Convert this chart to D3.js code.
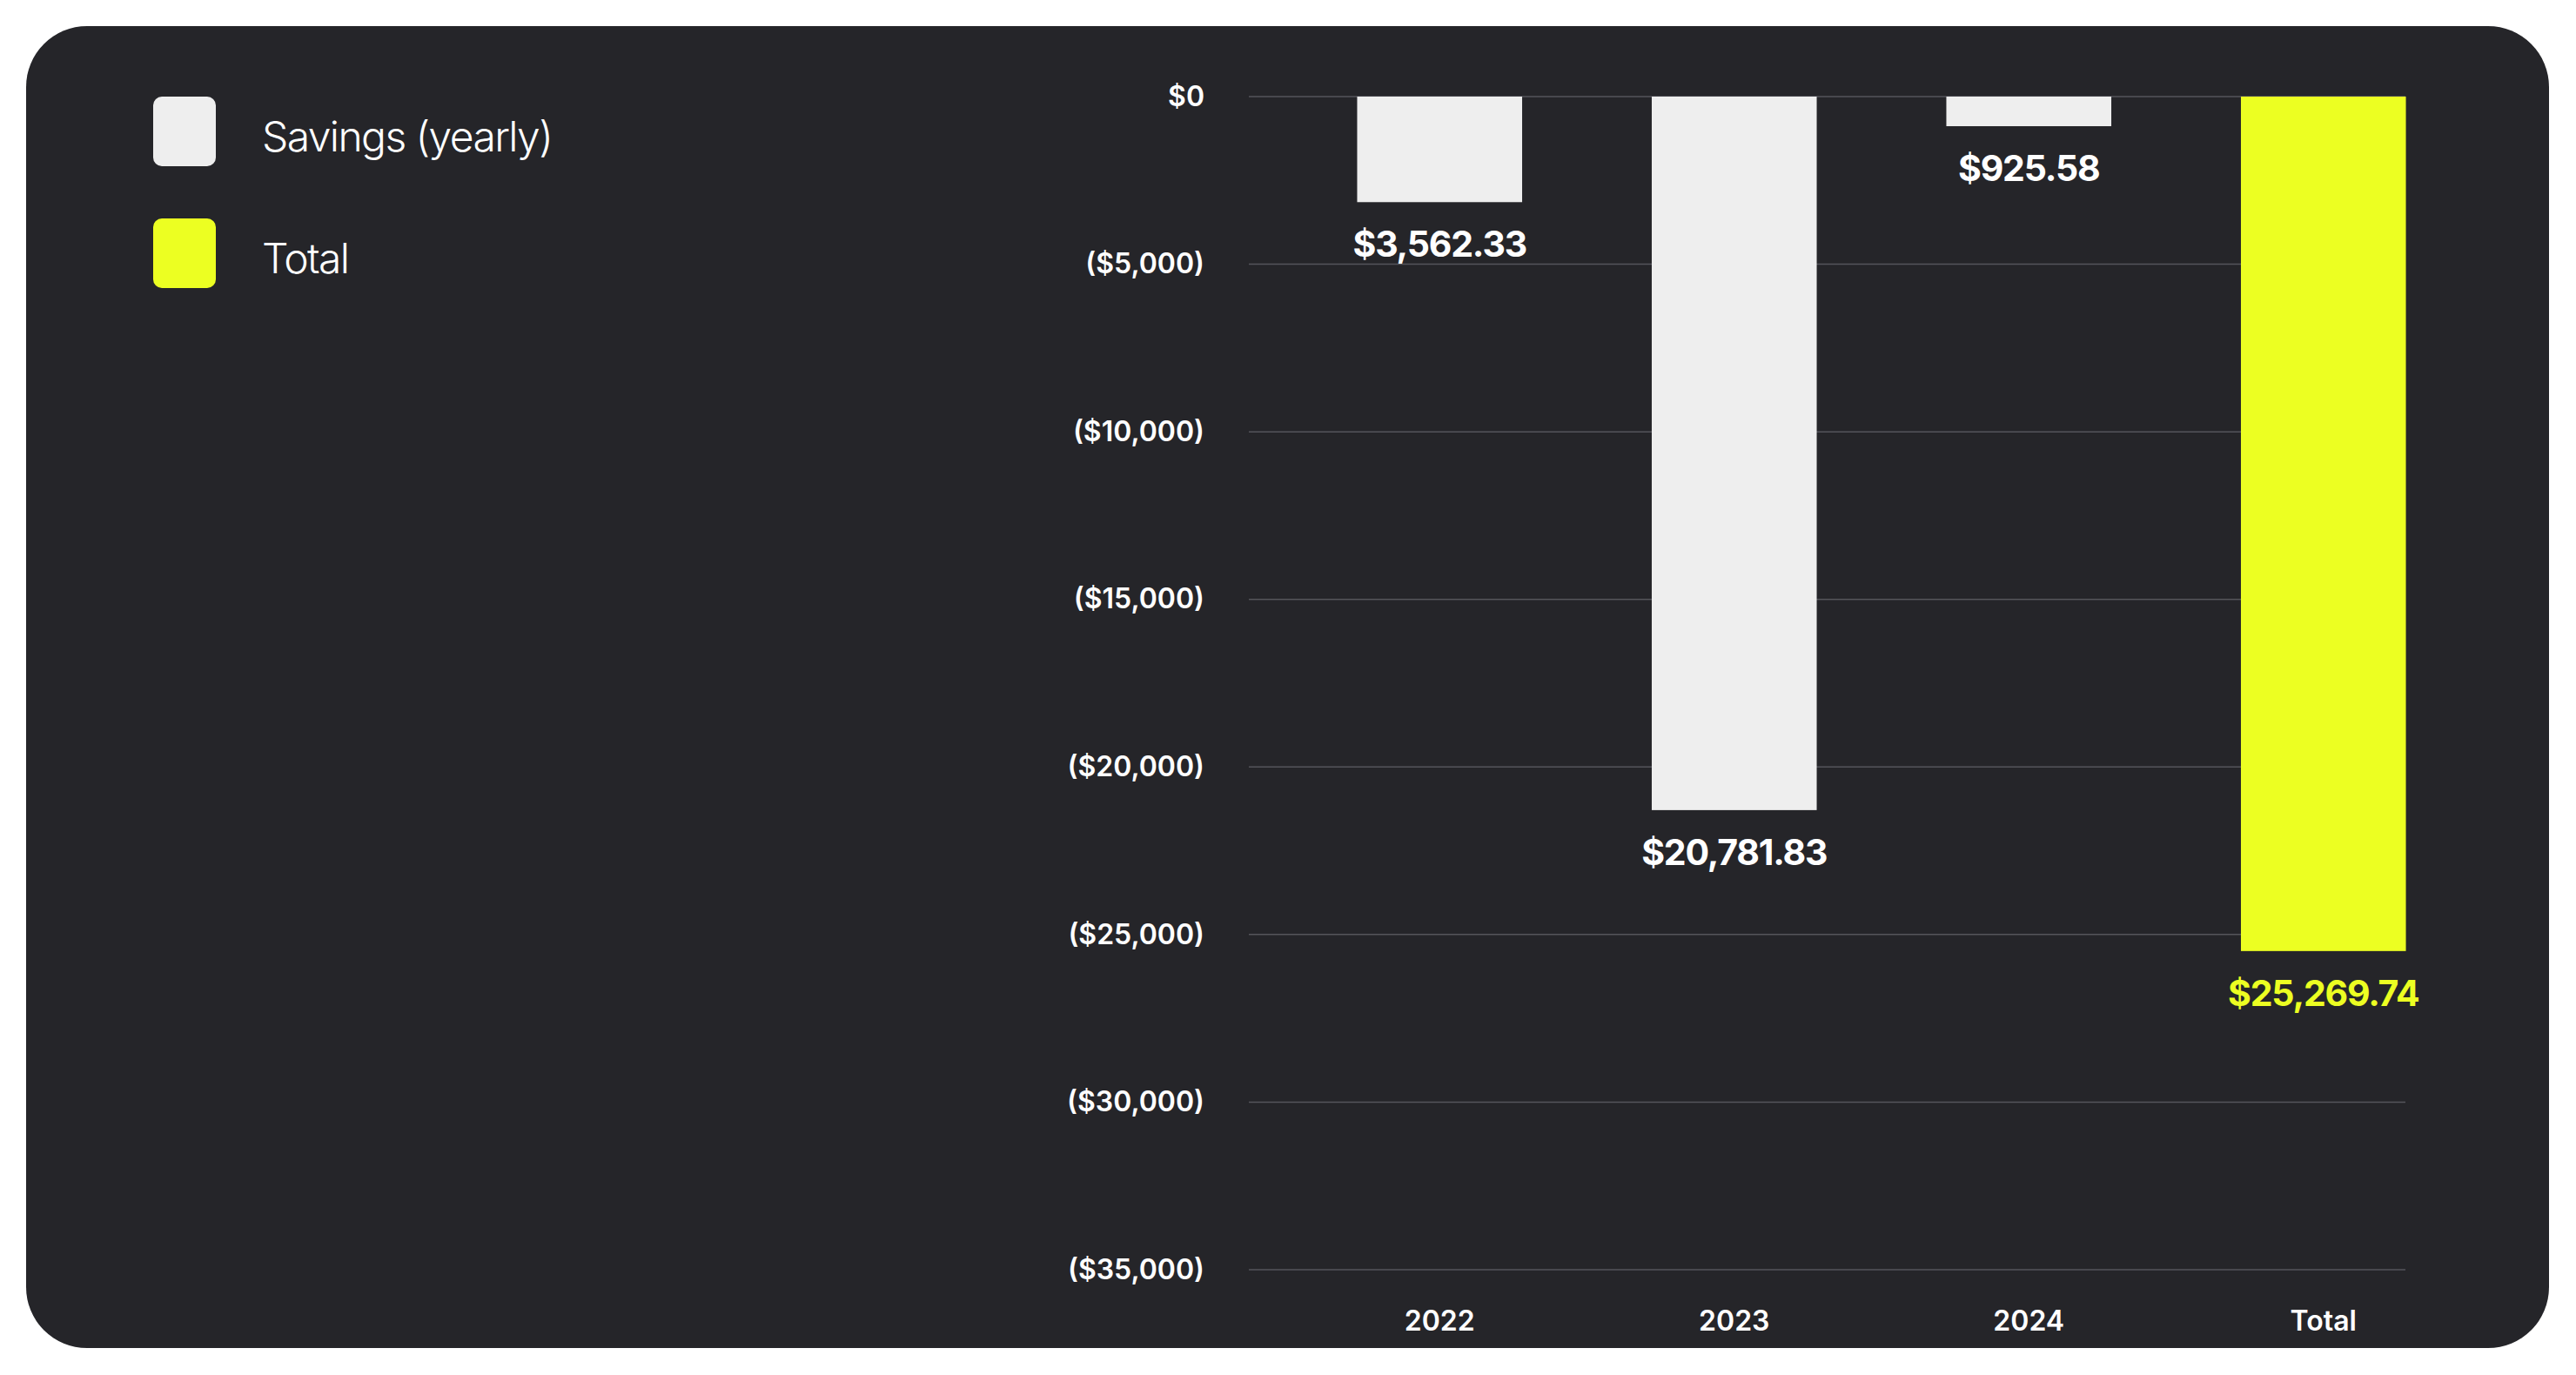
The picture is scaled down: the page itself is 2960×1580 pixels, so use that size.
<!DOCTYPE html>
<html>
<head>
<meta charset="utf-8">
<script src="https://cdn.jsdelivr.net/npm/d3@7"></script>
<style>
  html, body { margin: 0; padding: 0; background: #ffffff; }
  svg { display: block; font-family: Inter, "Noto Sans", sans-serif; }
</style>
</head>
<body>
<div id="chart"></div>
<script>
// categories along the x axis
const categories = ["2022", "2023", "2024", "Total"];
// bar lengths as drawn in the picture (negative = savings shown downward)
const barValues = [-3149, -21288, -883, -25493];
// value labels printed under each bar
const valueLabels = ["$3,562.33", "$20,781.83", "$925.58", "$25,269.74"];
// which series each bar belongs to
const barSeries = ["Savings (yearly)", "Savings (yearly)", "Savings (yearly)", "Total"];
// y axis ticks
const yTicks = [0, -5000, -10000, -15000, -20000, -25000, -30000, -35000];
// legend entries
const legendItems = ["Savings (yearly)", "Total"];

const width = 2960;
const height = 1580;

const colors = {
    "Savings (yearly)": "#eeeeee",
    "Total": "#ecff22"
};
const labelColors = {
    "Savings (yearly)": "#ffffff",
    "Total": "#ecff22"
};

const svg = d3.select("#chart")
    .append("svg")
    .attr("width", width)
    .attr("height", height);

// dark card
svg.append("rect")
    .attr("x", 30)
    .attr("y", 30)
    .attr("width", 2899)
    .attr("height", 1519)
    .attr("rx", 70)
    .attr("fill", "#252529");

const y = d3.scaleLinear()
    .domain([0, -35000])
    .range([111, 1459]);

const x = d3.scaleBand()
    .domain(categories)
    .range([1485, 2839])
    .paddingInner(0.44)
    .paddingOuter(0.22);

const gridLeft = 1435;
const gridRight = 2764;

const fmt = v => v === 0 ? "$0" : `($${d3.format(",")(Math.abs(v))})`;

// gridlines
svg.append("g")
    .selectAll("line")
    .data(yTicks)
    .enter()
    .append("line")
    .attr("x1", gridLeft)
    .attr("x2", gridRight)
    .attr("y1", d => y(d))
    .attr("y2", d => y(d))
    .attr("stroke", "#55555b")
    .attr("stroke-width", 1.5);

// y axis labels
const yAxis = d3.axisLeft(y)
    .tickValues(yTicks)
    .tickFormat(fmt)
    .tickSize(0)
    .tickPadding(0);

svg.append("g")
    .attr("transform", `translate(1384,0)`)
    .call(yAxis)
    .call(g => g.select(".domain").remove())
    .selectAll("text")
    .attr("fill", "#ffffff")
    .style("font-family", "Inter, sans-serif")
    .style("font-size", "32px")
    .style("font-weight", 600);

// x axis labels
const xAxis = d3.axisBottom(x).tickSize(0).tickPadding(0);

svg.append("g")
    .attr("transform", `translate(0,1506)`)
    .call(xAxis)
    .call(g => g.select(".domain").remove())
    .selectAll("text")
    .attr("fill", "#ffffff")
    .attr("dy", "0.71em")
    .style("font-family", "Inter, sans-serif")
    .style("font-size", "32px")
    .style("font-weight", 600);

// bars
svg.append("g")
    .selectAll("rect")
    .data(categories)
    .enter()
    .append("rect")
    .attr("x", d => x(d))
    .attr("width", x.bandwidth())
    .attr("y", (d, i) => y(Math.max(0, barValues[i])))
    .attr("height", (d, i) => Math.abs(y(barValues[i]) - y(0)))
    .attr("fill", (d, i) => colors[barSeries[i]]);

// value labels
svg.append("g")
    .selectAll("text")
    .data(categories)
    .enter()
    .append("text")
    .attr("x", d => x(d) + x.bandwidth() / 2)
    .attr("y", (d, i) => y(barValues[i]) + 63)
    .attr("text-anchor", "middle")
    .attr("fill", (d, i) => labelColors[barSeries[i]])
    .style("font-size", "41px")
    .style("font-weight", 700)
    .style("letter-spacing", "-1.2px")
    .text((d, i) => valueLabels[i]);

// legend
const legend = svg.append("g")
    .selectAll("g")
    .data(legendItems)
    .enter()
    .append("g")
    .attr("transform", (d, i) => `translate(176, ${111 + i * 140})`);

legend.append("rect")
    .attr("width", 72)
    .attr("height", 80)
    .attr("rx", 10)
    .attr("fill", d => colors[d]);

legend.append("text")
    .attr("x", 125)
    .attr("y", 63)
    .attr("fill", "#ffffff")
    .style("font-size", "48px")
    .style("font-weight", 300)
    .style("letter-spacing", "-1.6px")
    .text(d => d);
</script>
</body>
</html>
